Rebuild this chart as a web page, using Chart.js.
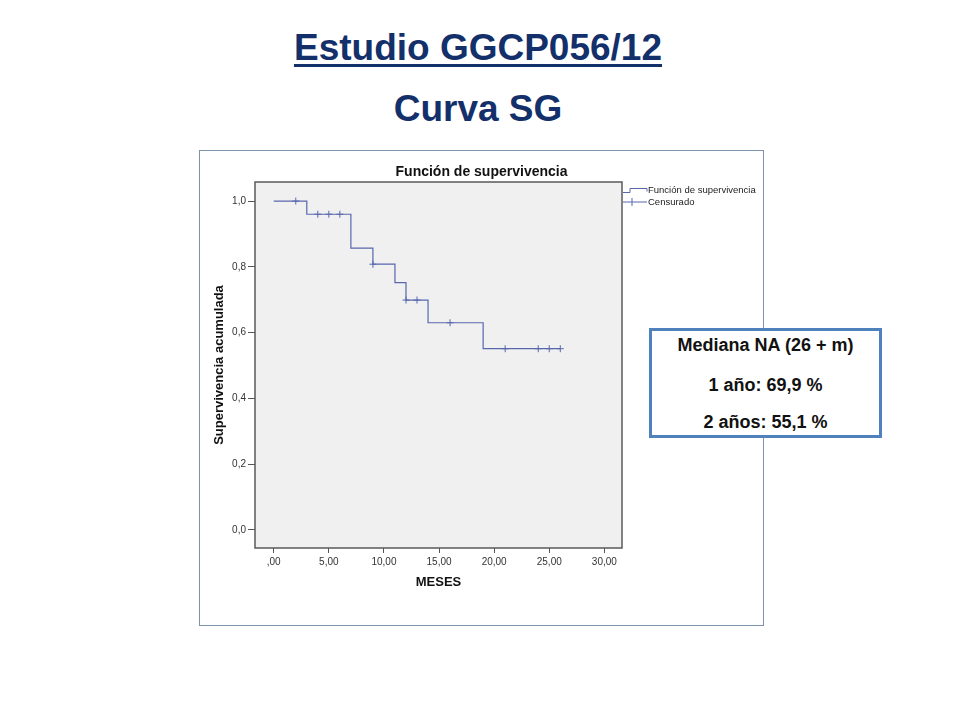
<!DOCTYPE html>
<html>
<head>
<meta charset="utf-8">
<script src="https://cdn.jsdelivr.net/npm/chart.js@4/dist/chart.umd.min.js"></script>
<style>
  html, body { margin: 0; padding: 0; background: #ffffff; }
  body { width: 960px; height: 720px; position: relative; overflow: hidden; font-family: Arial, "Liberation Sans", sans-serif; }
  .slide-title { position: absolute; left: 0; width: 956px; text-align: center; font-weight: bold; font-size: 37px; line-height: 37px; color: #13306b; }
  #t1 { top: 28.7px; }
  #t1 span { text-decoration: underline; text-decoration-thickness: 3px; text-underline-offset: 4px; }
  #t2 { top: 89.7px; }
  #frame { position: absolute; left: 199px; top: 150px; width: 565px; height: 476px; box-sizing: border-box; border: 1px solid #7d93ad; }
  #frame canvas { display: block; }
  #info { position: absolute; left: 649px; top: 328px; width: 233px; height: 110px; box-sizing: border-box; border: 3px solid #4f81bd; background: #ffffff; }
  .info-line { position: absolute; left: 0; width: 233px; text-align: center; font-weight: bold; font-size: 18px; line-height: 18px; color: #111; }
</style>
</head>
<body>
<div class="slide-title" id="t1"><span>Estudio GGCP056/12</span></div>
<div class="slide-title" id="t2">Curva SG</div>
<div id="frame"><canvas id="c" width="563" height="474"></canvas></div>
<div id="info"></div>
<div class="info-line" style="left:649px; top:335.8px;">Mediana NA (26 + m)</div>
<div class="info-line" style="left:649px; top:375.8px;">1 año: 69,9 %</div>
<div class="info-line" style="left:649px; top:412.8px;">2 años: 55,1 %</div>
<script>
// ---- data ----
const months = [0, 3, 7, 9, 11, 12, 14, 19, 26];
const survival = [1.0, 0.96, 0.857, 0.808, 0.752, 0.699, 0.63, 0.551, 0.551];
const censorMonths = [2, 4, 5, 6, 9, 12, 13, 16, 21, 24, 25, 26];
const censorSurvival = [1.0, 0.96, 0.96, 0.96, 0.808, 0.699, 0.699, 0.63, 0.551, 0.551, 0.551, 0.551];
const xTickValues = [0, 5, 10, 15, 20, 25, 30];
const xTickLabels = [',00', '5,00', '10,00', '15,00', '20,00', '25,00', '30,00'];
const yTickValues = [0, 0.2, 0.4, 0.6, 0.8, 1.0];
const yTickLabels = ['0,0', '0,2', '0,4', '0,6', '0,8', '1,0'];
const seriesLabels = ['Función de supervivencia', 'Censurado'];

const lineColor = '#5867ad';
const FONT = 'Arial, "Liberation Sans", sans-serif';

const plotFrame = {
  id: 'plotFrame',
  beforeDatasetsDraw(chart) {
    const {ctx, chartArea: a} = chart;
    ctx.save();
    ctx.fillStyle = '#f0f0f0';
    ctx.fillRect(a.left, a.top, a.right - a.left, a.bottom - a.top);
    ctx.restore();
  },
  afterDraw(chart) {
    const {ctx, chartArea: a} = chart;
    ctx.save();
    ctx.strokeStyle = '#5a5a5a';
    ctx.lineWidth = 1.5;
    ctx.strokeRect(a.left, a.top, a.right - a.left, a.bottom - a.top);
    // legend (SPSS style)
    const lx = a.right + 1, ly = a.top;
    ctx.strokeStyle = lineColor;
    ctx.lineWidth = 1;
    ctx.beginPath();
    ctx.moveTo(lx, ly + 10.5);
    ctx.lineTo(lx + 7, ly + 10.5);
    ctx.lineTo(lx + 7, ly + 6.5);
    ctx.lineTo(lx + 24, ly + 6.5);
    ctx.lineTo(lx + 24, ly + 9.5);
    ctx.stroke();
    ctx.beginPath();
    ctx.moveTo(lx, ly + 20);
    ctx.lineTo(lx + 24, ly + 20);
    ctx.moveTo(lx + 9, ly + 16);
    ctx.lineTo(lx + 9, ly + 24);
    ctx.stroke();
    ctx.fillStyle = '#222';
    ctx.font = '9.5px ' + FONT;
    ctx.textBaseline = 'middle';
    ctx.textAlign = 'left';
    ctx.fillText(chart.data.datasets[0].label, lx + 25, ly + 8.5);
    ctx.fillText(chart.data.datasets[1].label, lx + 25, ly + 20.5);
    ctx.restore();
  }
};

new Chart(document.getElementById('c'), {
  type: 'line',
  data: {
    datasets: [
      {
        label: seriesLabels[0],
        data: months.map((m, i) => ({x: m, y: survival[i]})),
        borderColor: lineColor,
        borderWidth: 1.2,
        stepped: 'before',
        pointRadius: 0,
        fill: false
      },
      {
        label: seriesLabels[1],
        data: censorMonths.map((m, i) => ({x: m, y: censorSurvival[i]})),
        showLine: false,
        pointStyle: 'cross',
        pointRadius: 3.5,
        pointBorderColor: lineColor,
        pointBorderWidth: 1,
        borderColor: lineColor
      }
    ]
  },
  options: {
    responsive: false,
    animation: false,
    layout: { padding: 0 },
    plugins: {
      legend: { display: false },
      tooltip: { enabled: false },
      title: {
        display: true,
        text: 'Función de supervivencia',
        color: '#111',
        font: { family: FONT, size: 14, weight: 'bold' },
        padding: { top: 12.3, bottom: 1.9 }
      }
    },
    scales: {
      x: {
        type: 'linear',
        position: 'bottom',
        min: -1.7,
        max: 31.6,
        afterBuildTicks: s => { s.ticks = xTickValues.map(v => ({value: v})); },
        afterFit: s => { s.height = 77; },
        ticks: {
          callback: (v, i) => xTickLabels[i],
          color: '#333',
          font: { family: FONT, size: 10 },
          padding: 3,
          autoSkip: false,
          maxRotation: 0
        },
        grid: { drawOnChartArea: false, drawTicks: true, tickLength: 5, color: '#555' },
        border: { display: false },
        title: {
          display: true,
          text: 'MESES',
          color: '#111',
          font: { family: FONT, size: 13, weight: 'bold' },
          padding: { top: 0, bottom: 34.9 }
        }
      },
      y: {
        type: 'linear',
        position: 'left',
        min: -0.055,
        max: 1.058,
        afterBuildTicks: s => { s.ticks = yTickValues.map(v => ({value: v})); },
        afterFit: s => { s.width = 55; },
        ticks: {
          callback: (v, i) => yTickLabels[i],
          color: '#333',
          font: { family: FONT, size: 10 },
          padding: 2,
          autoSkip: false
        },
        grid: { drawOnChartArea: false, drawTicks: true, tickLength: 7, color: '#555' },
        border: { display: false },
        title: {
          display: true,
          text: 'Supervivencia acumulada',
          color: '#111',
          font: { family: FONT, size: 13, weight: 'bold' },
          padding: { top: 11.7, bottom: 0 }
        }
      },
      yR: {
        type: 'linear',
        position: 'right',
        display: true,
        afterFit: s => { s.width = 141; },
        ticks: { display: false },
        grid: { display: false, drawTicks: false },
        border: { display: false }
      }
    }
  },
  plugins: [plotFrame]
});
</script>
</body>
</html>
